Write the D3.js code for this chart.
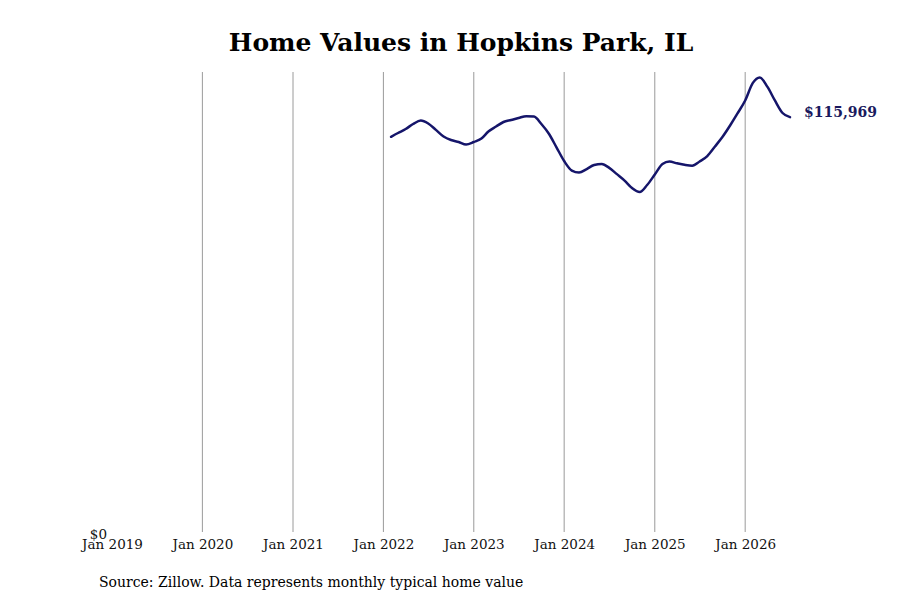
<!DOCTYPE html>
<html>
<head>
<meta charset="utf-8">
<script src="https://cdn.jsdelivr.net/npm/d3@7"></script>
<style>
  body { margin: 0; background: #fff; }
  svg { display: block; }
  text { font-family: "DejaVu Serif", serif; }
</style>
</head>
<body>
<svg id="chart" width="900" height="600"></svg>
<script>
const titleText = "Home Values in Hopkins Park, IL";
const sourceText = "Source: Zillow. Data represents monthly typical home value";

const months = [
  "2022-02","2022-03","2022-04","2022-05","2022-06","2022-07","2022-08","2022-09","2022-10","2022-11","2022-12",
  "2023-01","2023-02","2023-03","2023-04","2023-05","2023-06","2023-07","2023-08","2023-09","2023-10","2023-11","2023-12",
  "2024-01","2024-02","2024-03","2024-04","2024-05","2024-06","2024-07","2024-08","2024-09","2024-10","2024-11","2024-12",
  "2025-01","2025-02","2025-03","2025-04","2025-05","2025-06","2025-07","2025-08","2025-09","2025-10","2025-11","2025-12",
  "2026-01","2026-02","2026-03","2026-04","2026-05","2026-06","2026-07"
];

const values = [
  110480,111540,112660,114060,115040,114200,112410,110560,109580,109020,108320,
  109020,110000,111960,113360,114620,115180,115740,116240,116160,114060,111260,107540,
  103700,101040,100480,101460,102580,102860,101800,100040,98240,96150,95030,96990,
  99920,102860,103560,103060,102640,102390,103560,105100,107760,110420,113640,117000,
  120640,125540,127070,124420,120640,117140,115969
];

const tickYears = ["2019","2020","2021","2022","2023","2024","2025","2026"];
const xStart = "2019-01";
const xEnd = "2026-07";

const parse = d3.timeParse("%Y-%m");
const data = months.map((m, i) => ({ date: parse(m), value: values[i] }));

const svg = d3.select("#chart");
const mLeft = 112, mRight = 790, mTop = 72, mBottom = 532;

const x = d3.scaleTime()
  .domain([parse(xStart), parse(xEnd)])
  .range([mLeft, mRight]);

const y = d3.scaleLinear()
  .domain([0, d3.max(values) * 1.012])
  .range([mBottom, mTop]);

const tickDates = tickYears.map(yr => parse(yr + "-01"));

// vertical grid lines (skip the first tick)
svg.append("g")
  .selectAll("line")
  .data(tickDates.slice(1))
  .join("line")
  .attr("x1", d => x(d)).attr("x2", d => x(d))
  .attr("y1", mTop).attr("y2", mBottom)
  .attr("stroke", "#9a9a9a")
  .attr("stroke-width", 1);

// x axis
const xAxis = d3.axisBottom(x)
  .tickValues(tickDates)
  .tickFormat(d3.timeFormat("Jan %Y"))
  .tickSize(0)
  .tickPadding(7);

const gx = svg.append("g")
  .attr("transform", `translate(0,${mBottom})`)
  .call(xAxis);
gx.select(".domain").remove();
gx.selectAll("text")
  .attr("font-family", "DejaVu Serif")
  .attr("font-size", 13.5)
  .attr("fill", "#111");

// y axis ($0 only)
const yAxis = d3.axisLeft(y)
  .tickValues([0])
  .tickFormat(d => "$" + d3.format(",")(d))
  .tickSize(0)
  .tickPadding(5);

const gy = svg.append("g")
  .attr("transform", `translate(${mLeft},2)`)
  .call(yAxis);
gy.select(".domain").remove();
gy.selectAll("text")
  .attr("font-family", "DejaVu Serif")
  .attr("font-size", 13.5)
  .attr("fill", "#111");

// line
const line = d3.line()
  .x(d => x(d.date))
  .y(d => y(d.value))
  .curve(d3.curveMonotoneX);

svg.append("path")
  .datum(data)
  .attr("fill", "none")
  .attr("stroke", "#15156a")
  .attr("stroke-width", 2.5)
  .attr("stroke-linejoin", "round")
  .attr("stroke-linecap", "round")
  .attr("d", line);

// end label
const last = data[data.length - 1];
svg.append("text")
  .attr("x", x(last.date) + 14)
  .attr("y", y(last.value) - 5)
  .attr("dy", "0.35em")
  .attr("font-size", 14)
  .attr("font-weight", "bold")
  .attr("fill", "#1a1a5e")
  .text("$" + d3.format(",")(last.value));

// title
svg.append("text")
  .attr("x", 461)
  .attr("y", 51)
  .attr("text-anchor", "middle")
  .attr("font-size", 25)
  .attr("font-weight", "bold")
  .attr("fill", "#000")
  .text(titleText);

// source
svg.append("text")
  .attr("x", 99)
  .attr("y", 587)
  .attr("font-size", 14)
  .attr("fill", "#000")
  .text(sourceText);
</script>
</body>
</html>
